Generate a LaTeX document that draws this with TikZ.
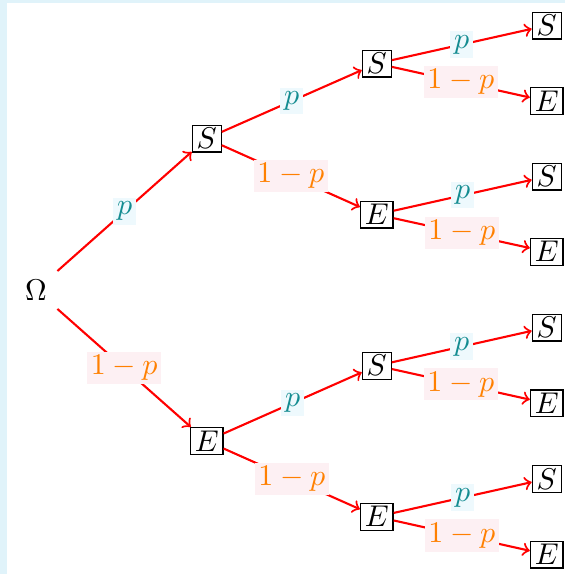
\documentclass[tikz,border=0pt]{standalone}
\usepackage{tikz}
\definecolor{bgcyan}{RGB}{224,243,250}
\definecolor{pcol}{RGB}{20,140,145}
\definecolor{qcol}{RGB}{255,128,0}
\definecolor{pfill}{RGB}{238,249,253}
\definecolor{qfill}{RGB}{253,240,243}
\begin{document}
\begin{tikzpicture}[x=0.33333pt,y=-0.33333pt,
  box/.style={draw=black,line width=0.4pt,inner xsep=1.45pt,inner ysep=1.05pt},
  omeganode/.style={inner sep=0.3333em},
  edge/.style={draw=red,line width=0.7pt,->},
  lp/.style={midway,fill=pfill,text=pcol,inner sep=1.25pt},
  lq/.style={midway,fill=qfill,text=qcol,inner sep=1.2pt}]
\fill[bgcyan] (0,0) rectangle (565,574);
\fill[white] (7.5,3) rectangle (565,574);
\useasboundingbox (0,0) rectangle (565,574);
\node[omeganode] (O) at (36,290) {$\Omega$};
\node[box] (A1) at (206.7,138.5) {$S$};
\node[box] (A2) at (206.7,441) {$E$};
\node[box] (B1) at (376.8,63.5) {$S$};
\node[box] (B2) at (376.8,214.5) {$E$};
\node[box] (B3) at (376.8,365.7) {$S$};
\node[box] (B4) at (376.8,516.7) {$E$};
\node[box] (C1) at (546.7,25.5) {$S$};
\node[box] (C2) at (546.7,101.2) {$E$};
\node[box] (C3) at (546.7,176.5) {$S$};
\node[box] (C4) at (546.7,251.7) {$E$};
\node[box] (C5) at (546.7,327.5) {$S$};
\node[box] (C6) at (546.7,403.3) {$E$};
\node[box] (C7) at (546.7,478.8) {$S$};
\node[box] (C8) at (546.7,554.5) {$E$};
\draw[edge] (O) -- node[lp]{$p$} (A1);
\draw[edge] (O) -- node[lq]{$1-p$} (A2);
\draw[edge] (A1) -- node[lp]{$p$} (B1);
\draw[edge] (A1) -- node[lq]{$1-p$} (B2);
\draw[edge] (A2) -- node[lp]{$p$} (B3);
\draw[edge] (A2) -- node[lq]{$1-p$} (B4);
\draw[edge] (B1) -- node[lp]{$p$} (C1);
\draw[edge] (B1) -- node[lq]{$1-p$} (C2);
\draw[edge] (B2) -- node[lp]{$p$} (C3);
\draw[edge] (B2) -- node[lq]{$1-p$} (C4);
\draw[edge] (B3) -- node[lp]{$p$} (C5);
\draw[edge] (B3) -- node[lq]{$1-p$} (C6);
\draw[edge] (B4) -- node[lp]{$p$} (C7);
\draw[edge] (B4) -- node[lq]{$1-p$} (C8);
\end{tikzpicture}
\end{document}
